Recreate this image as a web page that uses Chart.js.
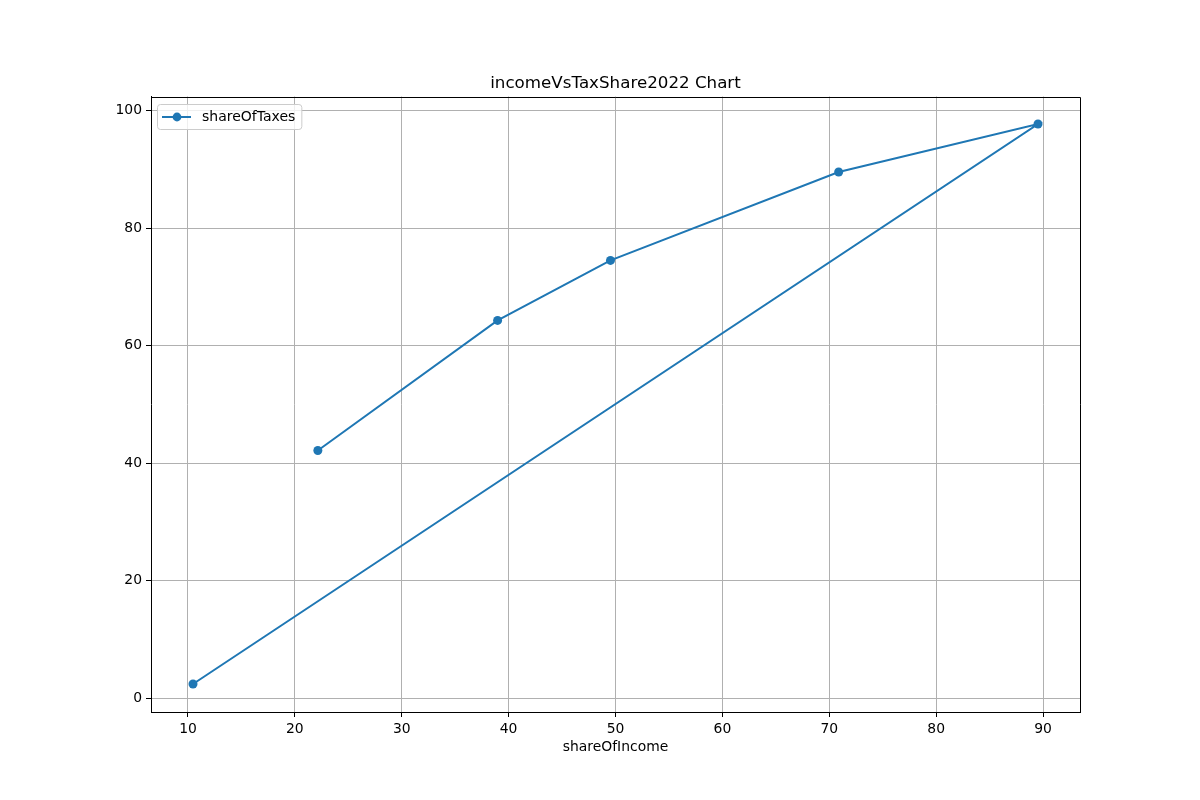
<!DOCTYPE html>
<html>
<head>
<meta charset="utf-8">
<script src="https://cdn.jsdelivr.net/npm/chart.js@4/dist/chart.umd.min.js"></script>
<style>
  body { margin: 0; background: #fff; }
  #wrap { width: 1200px; height: 800px; }
</style>
</head>
<body>
<div id="wrap"><canvas id="incomeChart" width="1200" height="800"></canvas></div>
<script>
const shareOfIncome = [22.15, 38.97, 49.53, 70.88, 89.53, 10.47];
const shareOfTaxes = [42.14, 64.27, 74.49, 89.53, 97.7, 2.38];
const xTicks = [10, 20, 30, 40, 50, 60, 70, 80, 90];
const yTicks = [0, 20, 40, 60, 80, 100];

const lineColor = '#1f77b4';
const font = 'DejaVu Sans';

// top and right axis spines
const frame = {
  id: 'frame',
  afterDraw(chart) {
    const { ctx, chartArea: a } = chart;
    const top = Math.round(a.top) + 0.5;
    const right = Math.round(a.right) + 0.5;
    ctx.save();
    ctx.strokeStyle = '#000';
    ctx.lineWidth = 1;
    ctx.beginPath();
    ctx.moveTo(a.left, top);
    ctx.lineTo(right, top);
    ctx.lineTo(right, a.bottom);
    ctx.stroke();
    ctx.restore();
  }
};

// matplotlib style legend inside the axes
const boxLegend = {
  id: 'boxLegend',
  afterDraw(chart) {
    const { ctx, chartArea: a } = chart;
    const label = chart.data.datasets[0].label;
    const x = Math.round(a.left) + 6, y = Math.round(a.top) + 7, h = 25;
    ctx.save();
    ctx.font = '14px "' + font + '"';
    const w = 51 + ctx.measureText(label).width;
    ctx.fillStyle = 'rgba(255,255,255,0.8)';
    ctx.strokeStyle = '#cccccc';
    ctx.lineWidth = 1;
    ctx.beginPath();
    ctx.roundRect(x + 0.5, y + 0.5, w, h, 3);
    ctx.fill();
    ctx.stroke();
    const cy = y + h / 2 + 0.5;
    ctx.strokeStyle = lineColor;
    ctx.lineWidth = 2;
    ctx.beginPath();
    ctx.moveTo(x + 5, cy);
    ctx.lineTo(x + 34, cy);
    ctx.stroke();
    ctx.fillStyle = lineColor;
    ctx.beginPath();
    ctx.arc(x + 20, cy, 4.4, 0, Math.PI * 2);
    ctx.fill();
    ctx.fillStyle = '#000';
    ctx.textBaseline = 'middle';
    ctx.fillText(label, x + 45, cy);
    ctx.restore();
  }
};

new Chart(document.getElementById('incomeChart'), {
  type: 'scatter',
  data: {
    datasets: [{
      label: 'shareOfTaxes',
      data: shareOfIncome.map((v, i) => ({ x: v, y: shareOfTaxes[i] })),
      showLine: true,
      borderColor: lineColor,
      backgroundColor: lineColor,
      borderWidth: 2,
      pointRadius: 4.5,
      pointHoverRadius: 4.5,
      pointBorderWidth: 0,
    }],
  },
  options: {
    responsive: false,
    animation: false,
    devicePixelRatio: 1,
    layout: { padding: { left: 0, right: 120, top: 0, bottom: 0 } },
    plugins: {
      legend: { display: false },
      tooltip: { enabled: false },
      title: {
        display: true,
        fullSize: false,
        text: 'incomeVsTaxShare2022 Chart',
        color: '#000',
        font: { family: font, size: 16.7, weight: 'normal' },
        padding: { top: 74, bottom: 2.5 },
      },
    },
    scales: {
      x: {
        type: 'linear',
        min: 6.54,
        max: 93.46,
        afterBuildTicks: scale => { scale.ticks = xTicks.map(v => ({ value: v })); },
        afterFit: scale => { scale.height = 88; },
        ticks: { color: '#000', padding: 4, font: { family: font, size: 13.9 }, maxRotation: 0 },
        grid: { color: '#b0b0b0', lineWidth: 1, tickColor: '#000', tickLength: 5 },
        border: { display: true, color: '#000', width: 1 },
        title: {
          display: true,
          text: 'shareOfIncome',
          color: '#000',
          font: { family: font, size: 13.9 },
          padding: { top: 2, bottom: 44 },
        },
      },
      y: {
        type: 'linear',
        min: -2.38,
        max: 102.38,
        afterBuildTicks: scale => { scale.ticks = yTicks.map(v => ({ value: v })); },
        afterFit: scale => { scale.width = 151; },
        ticks: { color: '#000', padding: 4, font: { family: font, size: 13.9 } },
        grid: { color: '#b0b0b0', lineWidth: 1, tickColor: '#000', tickLength: 5 },
        border: { display: true, color: '#000', width: 1 },
      },
    },
  },
  plugins: [frame, boxLegend],
});
</script>
</body>
</html>
